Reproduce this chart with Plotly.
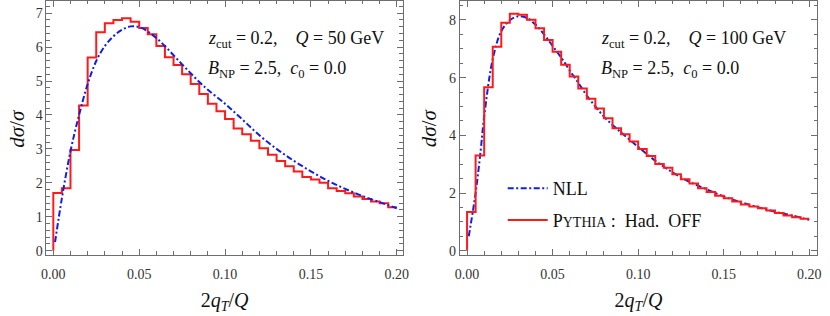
import plotly.graph_objects as go

# ---------------- data ----------------
bin_width = 0.005
bin_left = [i * bin_width for i in range(40)]

pythia_q50 = [1.70, 1.84, 2.97, 4.28, 5.69, 6.44, 6.70, 6.80, 6.85, 6.75,
              6.56, 6.38, 6.03, 5.70, 5.47, 5.20, 4.91, 4.62, 4.33, 4.11,
              3.88, 3.60, 3.43, 3.24, 3.02, 2.83, 2.64, 2.49, 2.33, 2.17,
              2.10, 2.00, 1.84, 1.76, 1.69, 1.60, 1.52, 1.45, 1.40, 1.28]

pythia_q100 = [1.34, 3.30, 5.67, 7.07, 7.90, 8.22, 8.18, 8.01, 7.71, 7.31,
               6.90, 6.45, 6.04, 5.62, 5.27, 4.93, 4.59, 4.25, 4.04, 3.79,
               3.53, 3.28, 3.01, 2.88, 2.65, 2.48, 2.33, 2.17, 2.04, 1.91,
               1.82, 1.71, 1.60, 1.53, 1.47, 1.39, 1.31, 1.22, 1.16, 1.11]

nll_x_q50 = [0.001, 0.005, 0.010, 0.015, 0.020, 0.025, 0.030, 0.035, 0.040, 0.045,
             0.050, 0.055, 0.060, 0.065, 0.070, 0.075, 0.080, 0.085, 0.090, 0.100,
             0.110, 0.120, 0.130, 0.140, 0.150, 0.160, 0.170, 0.180, 0.190, 0.200]
nll_y_q50 = [0.25, 1.55, 2.93, 4.00, 4.91, 5.59, 6.03, 6.32, 6.51, 6.61,
             6.59, 6.46, 6.27, 6.03, 5.76, 5.49, 5.23, 4.97, 4.74, 4.33,
             3.87, 3.40, 3.00, 2.65, 2.34, 2.06, 1.82, 1.61, 1.43, 1.25]

nll_x_q100 = [0.001, 0.005, 0.008, 0.010, 0.015, 0.020, 0.025, 0.030, 0.035, 0.040,
              0.045, 0.050, 0.055, 0.060, 0.065, 0.070, 0.075, 0.080, 0.085, 0.090,
              0.100, 0.110, 0.120, 0.130, 0.140, 0.150, 0.160, 0.170, 0.180, 0.190, 0.200]
nll_y_q100 = [0.50, 2.00, 3.50, 4.65, 6.64, 7.61, 7.99, 8.13, 8.07, 7.84,
              7.50, 7.10, 6.70, 6.25, 5.82, 5.38, 5.00, 4.65, 4.36, 4.10,
              3.60, 3.12, 2.72, 2.39, 2.13, 1.88, 1.68, 1.51, 1.35, 1.22, 1.07]

x_tick_vals = [0.0, 0.05, 0.10, 0.15, 0.20]
x_tick_text = ["0.00", "0.05", "0.10", "0.15", "0.20"]


def step_xy(values):
    xs = [0.0] + bin_left + [bin_left[-1] + bin_width]
    ys = [0.0] + values + [values[-1]]
    return xs, ys


FONT = "Liberation Serif"
RED = "#ff1a1a"
BLUE = "#0f1fe6"
FRAME = "#6e6e6e"
DASH = "6px,2.5px,2px,2.5px"

fig = go.Figure()

# right-panel NLL first so it heads the legend
fig.add_trace(go.Scatter(x=nll_x_q100, y=nll_y_q100, mode="lines", line_shape="spline",
                         line=dict(color=BLUE, width=2, dash=DASH),
                         name="NLL", xaxis="x2", yaxis="y2", legend="legend"))
xs, ys = step_xy(pythia_q100)
fig.add_trace(go.Scatter(x=xs, y=ys, mode="lines", line_shape="hv",
                         line=dict(color=RED, width=2),
                         name="P<span style='font-size:14px'>YTHIA</span> :  Had.  OFF",
                         xaxis="x2", yaxis="y2", legend="legend2"))

xs, ys = step_xy(pythia_q50)
fig.add_trace(go.Scatter(x=xs, y=ys, mode="lines", line_shape="hv",
                         line=dict(color=RED, width=2), showlegend=False,
                         xaxis="x", yaxis="y"))
fig.add_trace(go.Scatter(x=nll_x_q50, y=nll_y_q50, mode="lines", line_shape="spline",
                         line=dict(color=BLUE, width=2, dash=DASH), showlegend=False,
                         xaxis="x", yaxis="y"))

xcommon = dict(showline=True, linecolor=FRAME, linewidth=1, mirror="allticks",
               ticks="inside", ticklen=6, tickcolor=FRAME, tickwidth=1,
               tickvals=x_tick_vals, ticktext=x_tick_text, ticklabeloverflow="allow",
               ticklabelstandoff=6,
               minor=dict(dtick=0.01, tick0=0, ticks="inside", ticklen=3.5, tickcolor=FRAME),
               showgrid=False, zeroline=False,
               tickfont=dict(family=FONT, size=14, color="#333"),
               title=dict(text="2<i>q</i><sub><i>T</i></sub>/<i>Q</i>",
                          font=dict(family=FONT, size=20, color="#111"), standoff=12))
ycommon = dict(showline=True, linecolor=FRAME, linewidth=1, mirror="allticks",
               ticks="inside", ticklen=6, tickcolor=FRAME, tickwidth=1,
               showgrid=False, zeroline=False,
               tickfont=dict(family=FONT, size=14, color="#333"))

fig.update_layout(
    width=830, height=316,
    margin=dict(l=0, r=0, t=0, b=0),
    plot_bgcolor="white", paper_bgcolor="white",
    font=dict(family=FONT),
    xaxis=dict(xcommon, domain=[0.0506, 0.4855], range=[-0.0040, 0.2034], anchor="y"),
    yaxis=dict(ycommon, domain=[0.1835, 0.997], range=[-0.12, 7.36], dtick=1, tick0=0,
               minor=dict(dtick=0.2, tick0=0, ticks="inside", ticklen=3.5, tickcolor=FRAME),
               anchor="x"),
    xaxis2=dict(xcommon, domain=[0.5554, 0.9916], range=[-0.0042, 0.2046], anchor="y2"),
    yaxis2=dict(ycommon, domain=[0.1835, 0.997], range=[-0.14, 8.66], dtick=2, tick0=0,
                minor=dict(dtick=0.5, tick0=0, ticks="inside", ticklen=3.5, tickcolor=FRAME),
                anchor="x2"),
    legend=dict(x=0.6077, y=1 - 191 / 316, xanchor="left", yanchor="middle", itemwidth=40,
                bgcolor="rgba(0,0,0,0)", font=dict(family=FONT, size=18, color="#111")),
    legend2=dict(x=0.6077, y=1 - 223 / 316, xanchor="left", yanchor="middle", itemwidth=40,
                 bgcolor="rgba(0,0,0,0)", font=dict(family=FONT, size=18, color="#111")),
    showlegend=True,
)

# y-axis titles (rotated), placed like the reference
ytitle_font = dict(family=FONT, size=21, color="#111")
for xpix in (12, 430):
    fig.add_annotation(xref="paper", yref="paper", x=xpix / 830, y=1 - 129.5 / 316,
                       xanchor="center", yanchor="middle", showarrow=False, textangle=-90,
                       font=ytitle_font, text="<i>dσ</i>/<i>σ</i>")

ann_font = dict(family=FONT, size=18, color="#111")
fig.add_annotation(xref="paper", yref="paper", x=204 / 830, y=1 - 40 / 316,
                   xanchor="left", yanchor="middle", showarrow=False, font=ann_font,
                   text="<i>z</i><sub>cut</sub> = 0.2,    <i>Q</i> = 50 GeV")
fig.add_annotation(xref="paper", yref="paper", x=204 / 830, y=1 - 70 / 316,
                   xanchor="left", yanchor="middle", showarrow=False, font=ann_font,
                   text="<i>B</i><sub>NP</sub> = 2.5,  <i>c</i><sub>0</sub> = 0.0")
fig.add_annotation(xref="paper", yref="paper", x=602 / 830, y=1 - 40 / 316,
                   xanchor="left", yanchor="middle", showarrow=False, font=ann_font,
                   text="<i>z</i><sub>cut</sub> = 0.2,    <i>Q</i> = 100 GeV")
fig.add_annotation(xref="paper", yref="paper", x=602 / 830, y=1 - 70 / 316,
                   xanchor="left", yanchor="middle", showarrow=False, font=ann_font,
                   text="<i>B</i><sub>NP</sub> = 2.5,  <i>c</i><sub>0</sub> = 0.0")

fig.write_html("out.html", config={"displayModeBar": False},
               post_script="document.body.style.margin='0';document.body.style.padding='0';")
